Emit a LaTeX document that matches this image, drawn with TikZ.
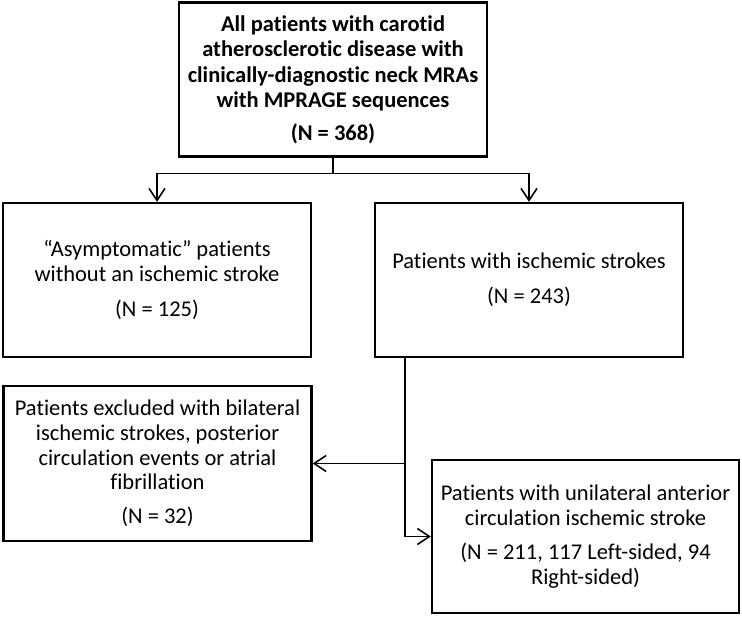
\documentclass[tikz,border=0pt]{standalone}
\usepackage{fontspec}
\setmainfont[Ligatures=NoCommon]{Carlito}
\usetikzlibrary{arrows.meta}
\begin{document}
\begin{tikzpicture}[x=1pt,y=-1pt,
  box/.style={draw, line width=2.4pt, minimum width=308pt, minimum height=154pt,
    align=center, inner sep=0pt, font=\fontsize{22.5}{24.7}\selectfont},
  conn/.style={line width=1.6pt, -{Straight Barb[length=12pt,width=16pt]}}]
\useasboundingbox (0,0) rectangle (742,617);
\node[box, font=\fontsize{22.5}{25.5}\selectfont\bfseries] (top) at (333,79.5)
  {All patients with carotid\\atherosclerotic disease with\\clinically-diagnostic neck MRAs\\with MPRAGE sequences\\[7pt](N = 368)};
\node[box] (asym) at (157,280)
  {“Asymptomatic” patients\\without an ischemic stroke\\[10pt](N = 125)};
\node[box] (isch) at (529,280)
  {Patients with ischemic strokes\\[10pt](N = 243)};
\node[box, minimum height=155pt] (excl) at (157.5,463.5)
  {Patients excluded with bilateral\\ischemic strokes, posterior\\circulation events or atrial\\fibrillation\\[9pt](N = 32)};
\node[box, minimum width=307pt, minimum height=153pt] (uni) at (585.5,536.5)
  {Patients with unilateral anterior\\circulation ischemic stroke\\[10pt](N = 211, 117 Left-sided, 94\\Right-sided)};
\coordinate (split) at ([yshift=-16pt]top.south);
\draw[line width=1.6pt] (top.south) -- (split);
\draw[conn] (split) -| (asym.north);
\draw[conn] (split) -| (isch.north);
\coordinate (branch) at ([xshift=31pt]isch.south west);
\draw[conn] (branch) |- (excl.east);
\draw[conn] (branch) |- (uni.west);
\end{tikzpicture}
\end{document}
